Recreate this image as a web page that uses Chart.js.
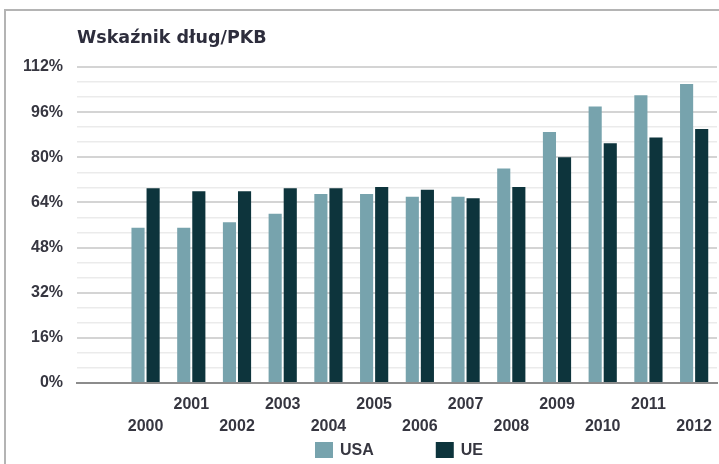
<!DOCTYPE html>
<html>
<head>
<meta charset="utf-8">
<script src="https://cdn.jsdelivr.net/npm/chart.js@4/dist/chart.umd.min.js"></script>
<style>
  html, body { margin: 0; padding: 0; background: #ffffff; }
  #wrap { position: relative; width: 719px; height: 464px; overflow: hidden; }
  #frame { position: absolute; left: 4px; top: 9px; width: 760px; height: 500px;
           border-top: 2px solid #b4b4b4; border-left: 2px solid #b4b4b4; box-sizing: border-box; }
  canvas { position: absolute; left: 0; top: 0; }
</style>
</head>
<body>
<div id="wrap">
  <div id="frame"></div>
  <canvas id="c" width="719" height="464"></canvas>
</div>
<script>
const titleText = 'Wskaźnik dług/PKB';
const years = ['2000','2001','2002','2003','2004','2005','2006','2007','2008','2009','2010','2011','2012'];
const usaValues = [55, 55, 57, 60, 67, 67, 66, 66, 76, 89, 98, 102, 106];
const ueValues  = [69, 68, 68, 69, 69, 69.5, 68.5, 65.5, 69.5, 80, 85, 87, 90];
const seriesNames = ['USA', 'UE'];
const yMax = 112;
const yMajorStep = 16;

// leading empty slot as in the original chart
const labels = [''].concat(years);
const usaData = [null].concat(usaValues);
const ueData = [null].concat(ueValues);

const colors = ['#77a3ad', '#0d343c'];
const textColor = '#363640';
const tickFont = { family: 'Liberation Sans, Arial, sans-serif', size: 16, weight: 'bold', lineHeight: 1.4 };

const isMajor = v => Math.abs(v / yMajorStep - Math.round(v / yMajorStep)) < 1e-6;

const customLegend = {
  id: 'customLegend',
  afterDraw(chart) {
    const ctx = chart.ctx;
    const ca = chart.chartArea;
    ctx.save();
    ctx.font = 'bold 16px "Liberation Sans", Arial, sans-serif';
    ctx.textBaseline = 'middle';
    ctx.textAlign = 'left';
    const box = 18, boxH = 16, gapText = 7, gapItems = 62;
    const items = chart.data.datasets.map(ds => ({
      text: ds.label, color: ds.backgroundColor,
      w: box + gapText + ctx.measureText(ds.label).width
    }));
    const total = items.reduce((s, it) => s + it.w, 0) + gapItems * (items.length - 1);
    let x = (ca.left + ca.right) / 2 - total / 2 + 2;
    const yTop = 442;
    items.forEach(it => {
      ctx.fillStyle = it.color;
      ctx.fillRect(x, yTop, box, boxH);
      ctx.fillStyle = textColor;
      ctx.fillText(it.text, x + box + gapText, yTop + boxH / 2 + 1);
      x += it.w + gapItems;
    });
    ctx.restore();
  }
};

new Chart(document.getElementById('c'), {
  type: 'bar',
  data: {
    labels: labels,
    datasets: [
      { label: seriesNames[0], data: usaData, backgroundColor: colors[0],
        categoryPercentage: 0.66, barPercentage: 0.87 },
      { label: seriesNames[1], data: ueData, backgroundColor: colors[1],
        categoryPercentage: 0.66, barPercentage: 0.87 }
    ]
  },
  options: {
    responsive: false,
    animation: false,
    devicePixelRatio: 1,
    layout: { padding: { top: 0, left: 0, right: 2, bottom: 0 } },
    plugins: {
      legend: { display: false },
      tooltip: { enabled: false },
      title: {
        display: true,
        text: titleText,
        align: 'start',
        fullSize: false,
        color: '#2d2d3c',
        font: { family: 'DejaVu Sans, Verdana, sans-serif', size: 17.5, weight: 'bold', lineHeight: 1.2 },
        padding: { top: 28, bottom: 18 }
      }
    },
    scales: {
      x: {
        grid: { display: false },
        border: { display: true, color: '#8c8c8c', width: 2 },
        ticks: {
          autoSkip: false, maxRotation: 0, minRotation: 0,
          color: textColor, font: tickFont, padding: 2,
          callback: function(value, index) {
            const lab = this.getLabelForValue(value);
            if (!lab) return '';
            return (parseInt(lab, 10) % 2 === 0) ? ['', lab] : [lab, ''];
          }
        },
        afterFit: scale => { scale.height = 81; }
      },
      y: {
        min: 0, max: yMax,
        border: { display: false },
        grid: {
          drawTicks: false,
          color: ctx => ctx.tick.value === 0 ? 'rgba(0,0,0,0)' : (isMajor(ctx.tick.value) ? '#d4d4d4' : '#ebebeb'),
          lineWidth: ctx => isMajor(ctx.tick.value) ? 2 : 1.5
        },
        ticks: {
          autoSkip: false,
          stepSize: yMajorStep / 3,
          color: textColor, font: tickFont, padding: 14,
          callback: v => isMajor(v) ? Math.round(v) + '%' : ''
        },
        afterFit: scale => { scale.width = 77; }
      }
    }
  },
  plugins: [customLegend]
});
</script>
</body>
</html>
